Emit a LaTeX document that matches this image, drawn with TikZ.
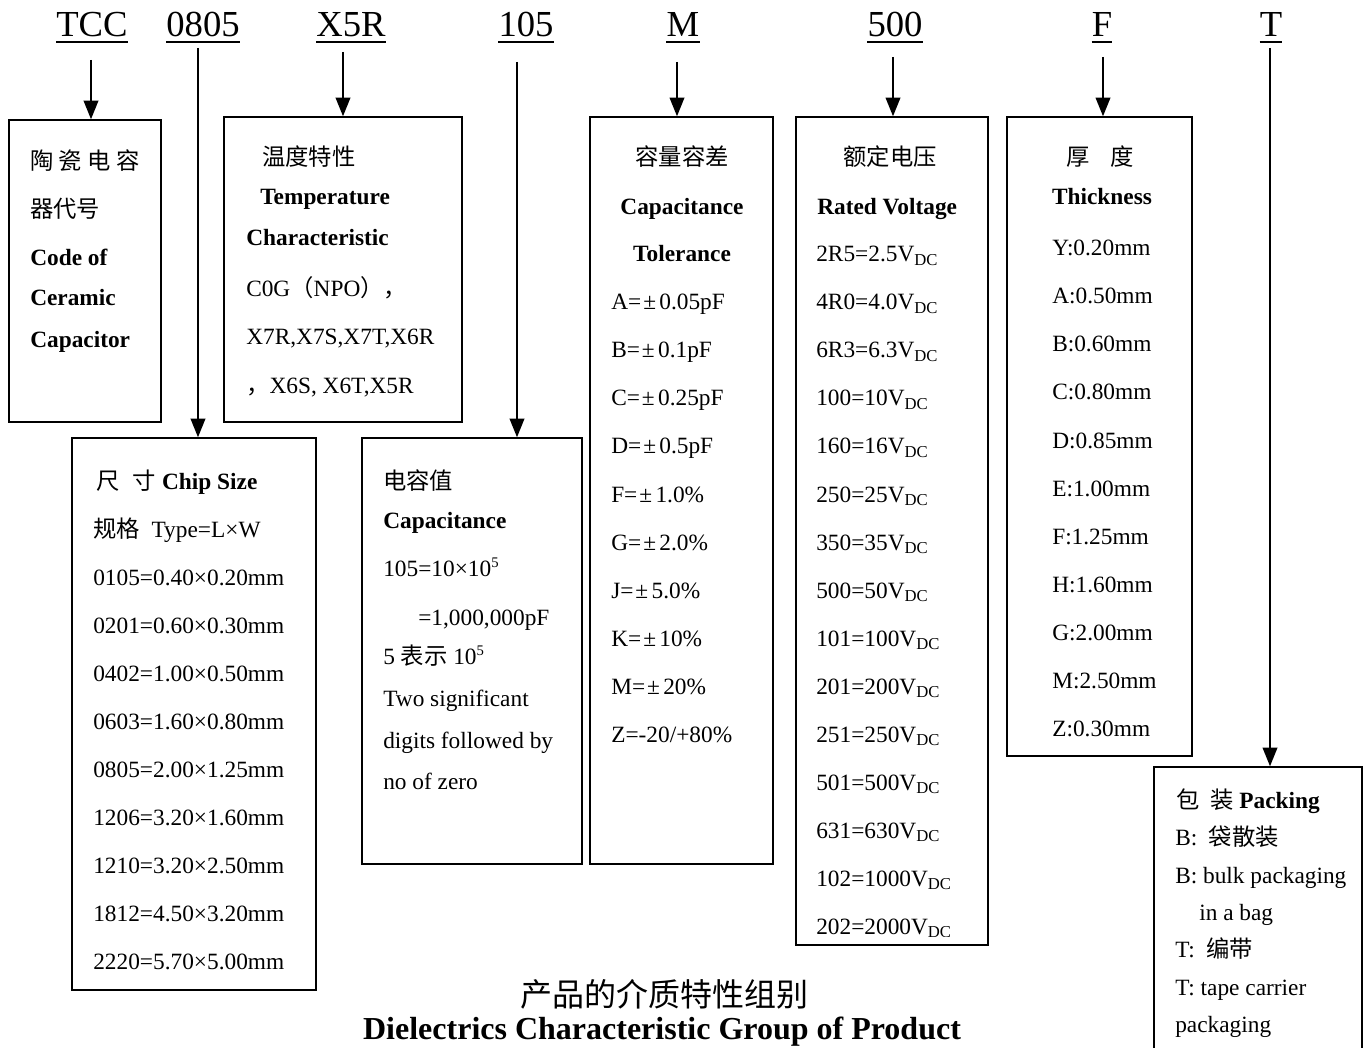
\documentclass[tikz,border=0pt]{standalone}
\usepackage{fontspec}
\setmainfont{Liberation Serif}
\newfontfamily\cjk{Noto Sans CJK SC}
\usetikzlibrary{arrows.meta,fit}
\newcommand\DC{\raisebox{-0.3ex}{\fontsize{12.5pt}{13pt}\selectfont DC}}
\newcommand\sP[1]{\raisebox{0.75ex}{\fontsize{11pt}{11pt}\selectfont #1}}
\newcommand\myPM{\kern1.5pt±\kern2.5pt}
\tikzset{
  box/.style={draw, line width=1.1pt, inner sep=0pt},
  tl/.style={anchor=base west, inner sep=0pt, font=\fontsize{17.5pt}{21pt}\selectfont},
  tc/.style={anchor=base, inner sep=0pt, font=\fontsize{17.5pt}{21pt}\selectfont},
  codelbl/.style={anchor=base, inner sep=0pt, font=\fontsize{27.5pt}{30pt}\selectfont},
  arr/.style={line width=1.3pt, -{Triangle[length=14pt,width=11pt]}},
  uline/.style={line width=1.1pt},
}
\begin{document}
\begin{tikzpicture}[x=0.75pt,y=-0.75pt]
\useasboundingbox (0,0) rectangle (1367,1048);

% code labels
\node[codelbl] (lTCC) at (92,37) {TCC};
\node[codelbl] (l0805) at (203,37) {0805};
\node[codelbl] (lX5R) at (351,37) {X5R};
\node[codelbl] (l105) at (526,37) {105};
\node[codelbl] (lM) at (683,37) {M};
\node[codelbl] (l500) at (895,37) {500};
\node[codelbl] (lF) at (1102,37) {F};
\node[codelbl] (lT) at (1271,37) {T};
\foreach \n in {lTCC,l0805,lX5R,l105,lM,l500,lF,lT}
  \draw[uline] ([yshift=-3.8pt]\n.base west) -- ([yshift=-3.8pt]\n.base east);

% boxes
\node[box, fit={(9,120)(161,422)}] (bTCC) {};
\node[box, fit={(72,438)(316,990)}] (b0805) {};
\node[box, fit={(224,117)(462,422)}] (bX5R) {};
\node[box, fit={(362,438)(582,864)}] (b105) {};
\node[box, fit={(590,117)(773,864)}] (bM) {};
\node[box, fit={(796,117)(988,945)}] (b500) {};
\node[box, fit={(1007,117)(1192,756)}] (bF) {};
\node[box, fit={(1154,767)(1362,1070)}] (bT) {};

% arrow start points
\coordinate (sTCC) at (91,60);
\coordinate (s0805) at (198,48);
\coordinate (sX5R) at (343,52);
\coordinate (s105) at (517,62);
\coordinate (sM) at (677,62);
\coordinate (s500) at (893,57);
\coordinate (sF) at (1103,57);
\coordinate (sT) at (1270,48);
\draw[arr] (sTCC) -- (sTCC |- bTCC.north);
\draw[arr] (s0805) -- (s0805 |- b0805.north);
\draw[arr] (sX5R) -- (sX5R |- bX5R.north);
\draw[arr] (s105) -- (s105 |- b105.north);
\draw[arr] (sM) -- (sM |- bM.north);
\draw[arr] (s500) -- (s500 |- b500.north);
\draw[arr] (sF) -- (sF |- bF.north);
\draw[arr] (sT) -- (sT |- bT.north);

% box TCC
\node[tl] (t11) at (30,170) {\cjk 陶\hspace{4pt}瓷\hspace{4pt}电\hspace{4pt}容};
\node[tl] (t12) at (30,218) {\cjk 器代号};
\node[tl] (t13) at (30,266) {\bfseries Code of};
\node[tl] (t14) at (30,306) {\bfseries Ceramic};
\node[tl] (t15) at (30,348) {\bfseries Capacitor};

% box X5R
\node[tl] (t31) at (262,166) {\cjk 温度特性};
\node[tl] (t32) at (260,205) {\bfseries Temperature};
\node[tl] (t33) at (246,246) {\bfseries Characteristic};
\node[tl] (t34) at (246,297) {C0G{\cjk （}NPO{\cjk ），}};
\node[tl] (t35) at (246,345) {X7R,X7S,X7T,X6R};
\node[tl] (t36) at (246,393) {{\cjk ，}X6S, X6T,X5R};

% box 0805
\node[tl] (t21) at (96,489) {{\cjk 尺\hspace{10pt}寸} \textbf{Chip Size}};
\node[tl] (t22) at (93,537) {{\cjk 规格}\ \ Type=L×W};
\node[tl] (t23) at (93,585) {0105=0.40×0.20mm};
\node[tl] (t24) at (93,633) {0201=0.60×0.30mm};
\node[tl] (t25) at (93,681) {0402=1.00×0.50mm};
\node[tl] (t26) at (93,729) {0603=1.60×0.80mm};
\node[tl] (t27) at (93,777) {0805=2.00×1.25mm};
\node[tl] (t28) at (93,825) {1206=3.20×1.60mm};
\node[tl] (t29) at (93,873) {1210=3.20×2.50mm};
\node[tl] (t2a) at (93,921) {1812=4.50×3.20mm};
\node[tl] (t2b) at (93,969) {2220=5.70×5.00mm};

% box 105
\node[tl] (t41) at (383,489) {\cjk 电容值};
\node[tl] (t42) at (383,528) {\bfseries Capacitance};
\node[tl] (t43) at (383,576) {105=10×10\sP{5}};
\node[tl] (t44) at (418,625) {=1,000,000pF};
\node[tl] (t45) at (383,664) {5 {\cjk 表示} 10\sP{5}};
\node[tl] (t46) at (383,706) {Two significant};
\node[tl] (t47) at (383,748) {digits followed by};
\node[tl] (t48) at (383,789) {no of zero};

% box M
\node[tc] (t51) at (682,166) {\cjk 容量容差};
\node[tc] (t52) at (682,215) {\bfseries Capacitance};
\node[tc] (t53) at (682,262) {\bfseries Tolerance};
\node[tl] (t54) at (611,310) {A=\myPM0.05pF};
\node[tl] (t55) at (611,358) {B=\myPM0.1pF};
\node[tl] (t56) at (611,406) {C=\myPM0.25pF};
\node[tl] (t57) at (611,454) {D=\myPM0.5pF};
\node[tl] (t58) at (611,502) {F=\myPM1.0\%};
\node[tl] (t59) at (611,550) {G=\myPM2.0\%};
\node[tl] (t5a) at (611,598) {J=\myPM5.0\%};
\node[tl] (t5b) at (611,646) {K=\myPM10\%};
\node[tl] (t5c) at (611,694) {M=\myPM20\%};
\node[tl] (t5d) at (611,742) {Z=-20/+80\%};

% box 500
\node[tc] (t61) at (890,166) {\cjk 额定电压};
\node[tl] (t62) at (817,215) {\bfseries Rated Voltage};
\node[tl] (t63) at (816,262) {2R5=2.5V\DC};
\node[tl] (t64) at (816,310) {4R0=4.0V\DC};
\node[tl] (t65) at (816,358) {6R3=6.3V\DC};
\node[tl] (t66) at (816,406) {100=10V\DC};
\node[tl] (t67) at (816,454) {160=16V\DC};
\node[tl] (t68) at (816,502) {250=25V\DC};
\node[tl] (t69) at (816,550) {350=35V\DC};
\node[tl] (t6a) at (816,598) {500=50V\DC};
\node[tl] (t6b) at (816,646) {101=100V\DC};
\node[tl] (t6c) at (816,694) {201=200V\DC};
\node[tl] (t6d) at (816,742) {251=250V\DC};
\node[tl] (t6e) at (816,790) {501=500V\DC};
\node[tl] (t6f) at (816,838) {631=630V\DC};
\node[tl] (t6g) at (816,886) {102=1000V\DC};
\begin{scope}
\clip (797,900) rectangle (987,936);
\node[tl] (t6h) at (816,934) {202=2000V\DC};
\end{scope}

% box F
\node[tc] (t71) at (1100,166) {\cjk 厚\hspace{16pt}度};
\node[tc] (t72) at (1102,205) {\bfseries Thickness};
\node[tl] (t73) at (1052,256) {Y:0.20mm};
\node[tl] (t74) at (1052,304) {A:0.50mm};
\node[tl] (t75) at (1052,352) {B:0.60mm};
\node[tl] (t76) at (1052,400) {C:0.80mm};
\node[tl] (t77) at (1052,448) {D:0.85mm};
\node[tl] (t78) at (1052,496) {E:1.00mm};
\node[tl] (t79) at (1052,544) {F:1.25mm};
\node[tl] (t7a) at (1052,592) {H:1.60mm};
\node[tl] (t7b) at (1052,640) {G:2.00mm};
\node[tl] (t7c) at (1052,688) {M:2.50mm};
\node[tl] (t7d) at (1052,736) {Z:0.30mm};

% box T
\node[tl] (t81) at (1176,808) {{\cjk 包\hspace{8pt}装} \textbf{Packing}};
\node[tl] (t82) at (1175,845) {B:\ \ {\cjk 袋散装}};
\node[tl] (t83) at (1175,883) {B: bulk packaging};
\node[tl] (t84) at (1199,920) {in a bag};
\node[tl] (t85) at (1175,957) {T:\ \ {\cjk 编带}};
\node[tl] (t86) at (1175,995) {T: tape carrier};
\node[tl] (t87) at (1175,1032) {packaging};

% title
\node[anchor=base, inner sep=0pt, font=\fontsize{24pt}{28pt}\selectfont] (ttl1) at (664,1006) {\cjk 产品的介质特性组别};
\node[anchor=base, inner sep=0pt, font=\fontsize{24pt}{28pt}\selectfont\bfseries] (ttl2) at (662,1039) {Dielectrics Characteristic Group of Product};
\end{tikzpicture}
\end{document}
